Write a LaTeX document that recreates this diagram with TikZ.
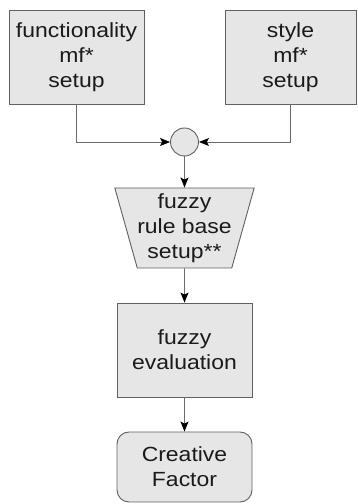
\documentclass[tikz,border=0pt]{standalone}
\usepackage{fontspec}
\setmainfont{Liberation Sans}[FakeStretch=1.12]
\usetikzlibrary{shapes.geometric,arrows.meta}
\definecolor{boxfill}{HTML}{E6E6E6}
\definecolor{boxline}{HTML}{606060}
\definecolor{lineclr}{HTML}{6A6A6A}
\definecolor{txtclr}{HTML}{1A1A1A}

\begin{document}
\begin{tikzpicture}[x=1pt, y=1pt,
  blockbox/.style={draw=boxline, fill=boxfill, line width=0.9pt, align=center, inner sep=0pt, text=txtclr,
    minimum width=135pt, minimum height=94pt, font=\fontsize{20.5}{25}\selectfont},
  flow/.style={draw=lineclr, line width=0.9pt, -{Stealth[length=10pt,width=8pt,inset=2pt,color=black]}}]
% Fix the page size
\useasboundingbox (0,0) rectangle (357,504);

% Draw the two setup boxes on top
\node[blockbox] (func) at (76.5, 447) {functionality\\mf*\\setup};
\node[blockbox, minimum width=131pt] (stylemf) at (290.5, 447) {style\\mf*\\setup};

% Junction circle
\node[draw=boxline, fill=boxfill, line width=0.9pt, circle, minimum size=28pt, inner sep=0pt] (mix) at (184.5, 362) {};

% Rule base trapezium, then evaluation and result
\node[blockbox, trapezium, shape border rotate=180, trapezium stretches=true,
  trapezium left angle=72, trapezium right angle=72, minimum height=80pt] (rules) at (184.5, 276) {fuzzy\\rule base\\setup**};
\node[blockbox] (evalbox) at (184.5, 154) {fuzzy\\evaluation};
\node[blockbox, rounded corners=12pt, minimum height=70pt] (result) at (184.5, 37) {Creative\\Factor};

% Connectors
\draw[flow] (func.south) |- (mix.west);
\draw[flow] (stylemf.south) |- (mix.east);
\draw[flow] (mix) -- (rules);
\draw[flow] (rules) -- (evalbox);
\draw[flow] (evalbox) -- (result);
\end{tikzpicture}
\end{document}
